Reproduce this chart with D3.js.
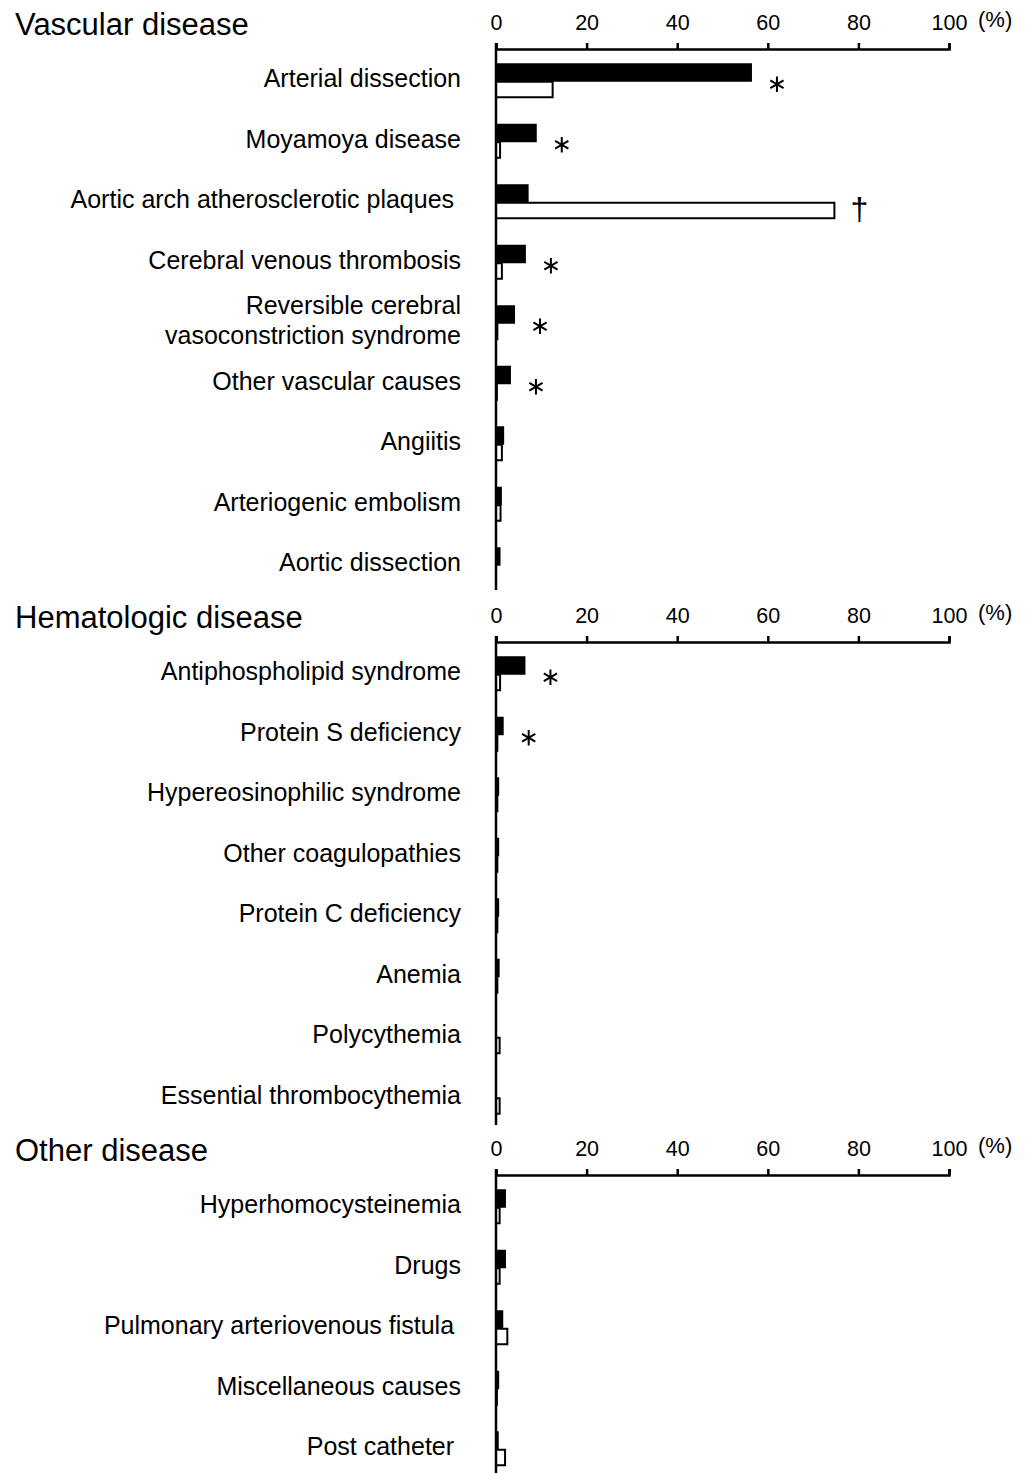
<!DOCTYPE html>
<html>
<head>
<meta charset="utf-8">
<script src="https://cdn.jsdelivr.net/npm/d3@7"></script>
<style>
  body { margin: 0; background: #fff; }
  text { font-family: "Liberation Sans", Arial, Helvetica, sans-serif; fill: #000; }
</style>
</head>
<body>
<script>
"use strict";

// --- data (percent of patients) ---
var ticks = [0, 20, 40, 60, 80, 100];

var vascularCats = ["Arterial dissection", "Moyamoya disease", "Aortic arch atherosclerotic plaques\u00a0",
  "Cerebral venous thrombosis", "Reversible cerebral|vasoconstriction syndrome", "Other vascular causes",
  "Angiitis", "Arteriogenic embolism", "Aortic dissection"];
var vascularBlack = [56.5, 9.0, 7.2, 6.6, 4.2, 3.3, 1.8, 1.3, 1.0];
var vascularWhite = [12.5, 0.9, 74.7, 1.3, 0.3, 0.2, 1.3, 1.0, 0];
var vascularMarks = ["*", "*", "\u2020", "*", "*", "*", "", "", ""];

var hemaCats = ["Antiphospholipid syndrome", "Protein S deficiency", "Hypereosinophilic syndrome",
  "Other coagulopathies", "Protein C deficiency", "Anemia", "Polycythemia", "Essential thrombocythemia"];
var hemaBlack = [6.5, 1.7, 0.7, 0.7, 0.7, 0.8, 0, 0];
var hemaWhite = [0.9, 0.3, 0.3, 0.3, 0.3, 0.3, 0.8, 0.8];
var hemaMarks = ["*", "*", "", "", "", "", "", ""];

var otherCats = ["Hyperhomocysteinemia", "Drugs", "Pulmonary arteriovenous fistula\u00a0",
  "Miscellaneous causes", "Post catheter\u00a0"];
var otherBlack = [2.2, 2.2, 1.6, 0.7, 0.6];
var otherWhite = [0.8, 0.8, 2.5, 0.2, 2.0];
var otherMarks = ["", "", "", "", ""];

function init() {
  var w = 1030;
  var h = 1473;
  var rowH = 60.5;

  var panels = [
    { title: "Vascular disease", top: 49, bottom: 590, cats: vascularCats, black: vascularBlack, white: vascularWhite, marks: vascularMarks },
    { title: "Hematologic disease", top: 642, bottom: 1125, cats: hemaCats, black: hemaBlack, white: hemaWhite, marks: hemaMarks },
    { title: "Other disease", top: 1175, bottom: 1473, cats: otherCats, black: otherBlack, white: otherWhite, marks: otherMarks }
  ];

  var xScale = d3.scaleLinear()
    .domain([0, 100])
    .range([496, 949]);

  var svg = d3.select("body")
    .append("svg")
    .attr("width", w)
    .attr("height", h);

  panels.forEach(function (p) {
    var g = svg.append("g");

    var yScale = d3.scaleBand()
      .domain(d3.range(p.cats.length))
      .range([p.top, p.top + p.cats.length * rowH]);

    // two bars per row: black then white
    var sub = d3.scaleBand()
      .domain(["black", "white"])
      .range([-15, 20]);

    function rowY(i) {
      return yScale(i) + yScale.bandwidth() / 2 - 1;
    }

    // title
    g.append("text")
      .attr("x", 15)
      .attr("y", p.top - 14)
      .attr("font-size", "31px")
      .text(p.title);

    // category labels
    p.cats.forEach(function (c, i) {
      var lines = c.split("|");
      var t = g.append("text")
        .attr("text-anchor", "end")
        .attr("font-size", "25px");
      lines.forEach(function (ln, k) {
        t.append("tspan")
          .attr("x", 461)
          .attr("y", rowY(i) + 9 + (k - (lines.length - 1) / 2) * 30)
          .text(ln);
      });
    });

    // bars
    ["black", "white"].forEach(function (s) {
      var vals = s === "black" ? p.black : p.white;
      g.selectAll("rect." + s)
        .data(vals.map(function (v, i) { return { v: v, i: i }; }).filter(function (d) { return d.v > 0; }))
        .enter()
        .append("rect")
        .attr("class", s)
        .attr("x", xScale(0))
        .attr("y", function (d) { return rowY(d.i) + sub(s) + (s === "white" ? 1 : 0); })
        .attr("width", function (d) { return xScale(d.v) - xScale(0); })
        .attr("height", s === "white" ? sub.bandwidth() - 2 : sub.bandwidth() + 1)
        .attr("fill", s === "black" ? "#000" : "#fff")
        .attr("stroke", s === "white" ? "#000" : "none")
        .attr("stroke-width", 2);
    });

    // significance marks
    p.marks.forEach(function (m, i) {
      if (!m) return;
      var xEnd = xScale(Math.max(p.black[i], p.white[i])) + 25;
      if (m === "*") {
        g.append("path")
          .attr("d", d3.symbol().type(d3.symbolAsterisk).size(165)())
          .attr("transform", "translate(" + xEnd + "," + (rowY(i) + 6) + ")")
          .attr("fill", "none")
          .attr("stroke", "#000")
          .attr("stroke-width", 2);
      } else {
        g.append("text")
          .attr("x", xEnd)
          .attr("y", rowY(i) + 21)
          .attr("text-anchor", "middle")
          .attr("font-family", "DejaVu Serif")
          .attr("font-size", "32px")
          .text(m);
      }
    });

    // top axis
    var axis = g.append("g")
      .attr("transform", "translate(0," + p.top + ")")
      .call(d3.axisTop(xScale).tickValues(ticks).tickSize(6).tickPadding(13));
    axis.select(".domain").attr("stroke-width", 2.5);
    axis.selectAll(".tick line").attr("stroke-width", 2.5);
    axis.selectAll(".tick text")
      .attr("font-family", "Liberation Sans, Arial, sans-serif")
      .attr("font-size", "21.5px");

    g.append("text")
      .attr("x", xScale(100) + 29)
      .attr("y", p.top - 22)
      .attr("font-size", "22px")
      .text("(%)");

    // vertical baseline
    g.append("line")
      .attr("x1", xScale(0))
      .attr("x2", xScale(0))
      .attr("y1", p.top - 6)
      .attr("y2", p.bottom)
      .attr("stroke", "#000")
      .attr("stroke-width", 2.5);
  });
}

window.onload = init;
</script>
</body>
</html>
